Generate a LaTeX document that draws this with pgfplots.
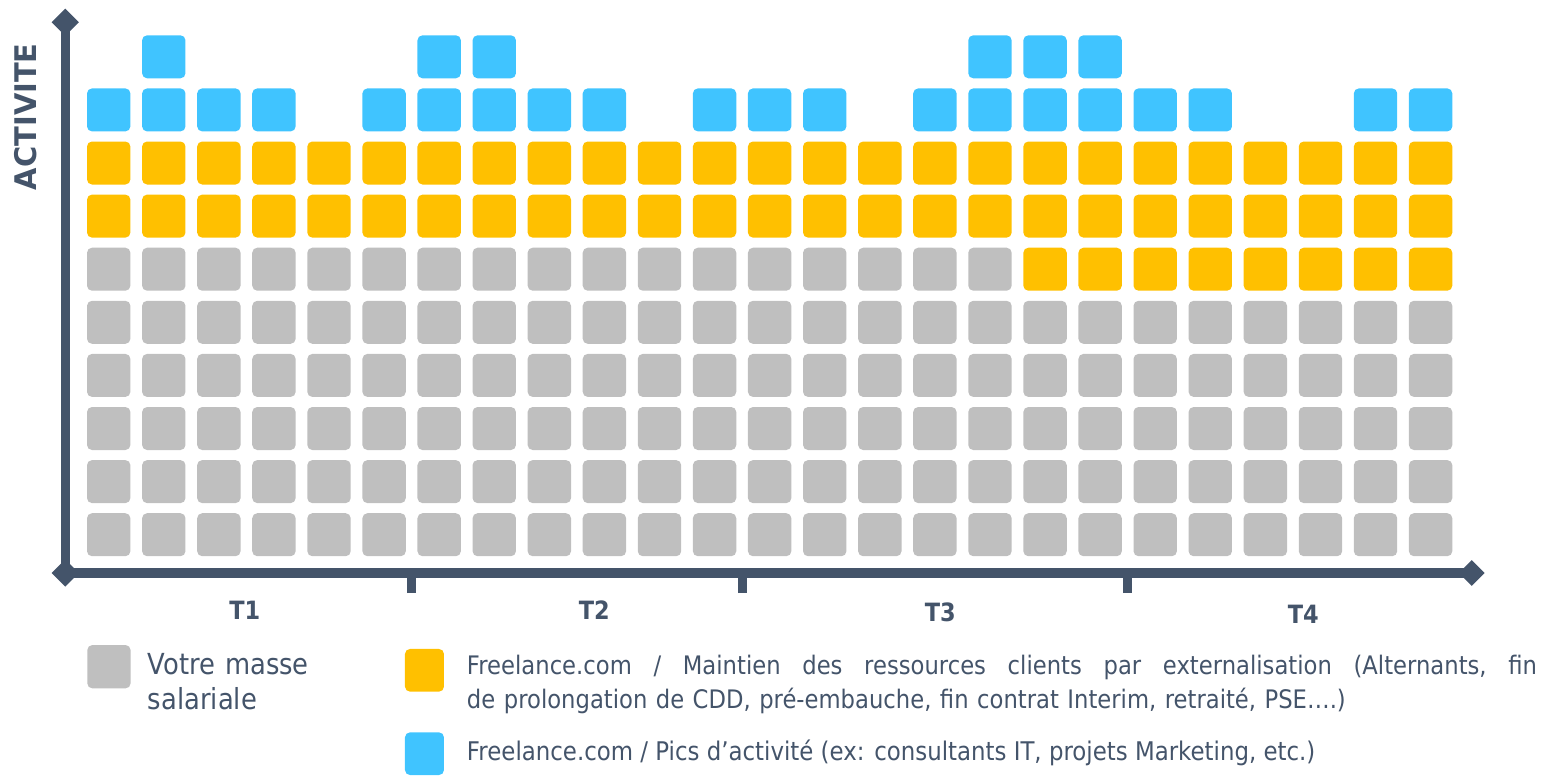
\documentclass[border=0pt]{standalone}
\usepackage{pgfplots}
\pgfplotsset{compat=1.18}
\usepackage{fontspec}
\setmainfont{DejaVu Sans}[FakeStretch=0.89]
\newfontfamily\labfont{DejaVu Sans}[FakeStretch=0.97]
\usetikzlibrary{shapes.geometric}
\definecolor{grayc}{HTML}{BFBFBF}
\definecolor{yellowc}{HTML}{FFC000}
\definecolor{bluec}{HTML}{40C4FF}
\definecolor{axiscol}{HTML}{44546A}
\pgfdeclareplotmark{rsq}{%
  \pgfsetcornersarced{\pgfpoint{2.5pt}{2.5pt}}%
  \pgfpathmoveto{\pgfpoint{-10.85pt}{0pt}}%
  \pgfpathlineto{\pgfpoint{-10.85pt}{10.75pt}}%
  \pgfpathlineto{\pgfpoint{10.85pt}{10.75pt}}%
  \pgfpathlineto{\pgfpoint{10.85pt}{-10.75pt}}%
  \pgfpathlineto{\pgfpoint{-10.85pt}{-10.75pt}}%
  \pgfpathclose
  \pgfusepath{fill}}
\begin{document}
\begin{tikzpicture}
\useasboundingbox (0pt,0pt) rectangle (772pt,388.5pt);
\begin{axis}[
  scale only axis, width=703.2pt, height=275.35pt,
  at={(32.65pt,102pt)}, anchor=south west,
  xmin=0.212, xmax=25.746, ymin=-0.721, ymax=9.65,
  axis x line=bottom, axis y line=left,
  axis line style={-, line width=4.65pt, draw=axiscol},
  xtick={6.5,12.5,19.5}, xticklabel=\empty, ytick=\empty,
  tick align=outside, major tick length=10pt,
  tick style={line width=4.5pt, draw=axiscol},
  clip=false,
  ylabel={ACTIVITE},
  ylabel style={at={(axis description cs:-0.02809,0.8286)}, anchor=center,
    font=\labfont\bfseries\fontsize{14.9pt}{17pt}\selectfont, text=axiscol},
  legend columns=2,
  legend style={at={(0.01564,-0.11168)}, anchor=north west, draw=none, fill=none,
    inner sep=0pt, outer sep=0pt, column sep=0pt, row sep=-2.25pt,
    cells={anchor=base west},
    nodes={inner sep=0pt, outer sep=0pt, text depth=, text=axiscol}},
]
% gray: votre masse salariale
\addplot[only marks, mark=rsq, color=grayc,
  legend image code/.code={\path[draw=none, fill=none] (0pt,-25pt) rectangle (30.35pt,20pt);
    \fill[grayc, draw=none, rounded corners=2.5pt] (0pt,-6.925pt) rectangle (21.65pt,14.725pt);}]
coordinates {
(1,0)(2,0)(3,0)(4,0)(5,0)(6,0)(7,0)(8,0)(9,0)(10,0)(11,0)(12,0)(13,0)(14,0)(15,0)(16,0)(17,0)(18,0)(19,0)(20,0)(21,0)(22,0)(23,0)(24,0)(25,0)
(1,1)(2,1)(3,1)(4,1)(5,1)(6,1)(7,1)(8,1)(9,1)(10,1)(11,1)(12,1)(13,1)(14,1)(15,1)(16,1)(17,1)(18,1)(19,1)(20,1)(21,1)(22,1)(23,1)(24,1)(25,1)
(1,2)(2,2)(3,2)(4,2)(5,2)(6,2)(7,2)(8,2)(9,2)(10,2)(11,2)(12,2)(13,2)(14,2)(15,2)(16,2)(17,2)(18,2)(19,2)(20,2)(21,2)(22,2)(23,2)(24,2)(25,2)
(1,3)(2,3)(3,3)(4,3)(5,3)(6,3)(7,3)(8,3)(9,3)(10,3)(11,3)(12,3)(13,3)(14,3)(15,3)(16,3)(17,3)(18,3)(19,3)(20,3)(21,3)(22,3)(23,3)(24,3)(25,3)
(1,4)(2,4)(3,4)(4,4)(5,4)(6,4)(7,4)(8,4)(9,4)(10,4)(11,4)(12,4)(13,4)(14,4)(15,4)(16,4)(17,4)(18,4)(19,4)(20,4)(21,4)(22,4)(23,4)(24,4)(25,4)
(1,5)(2,5)(3,5)(4,5)(5,5)(6,5)(7,5)(8,5)(9,5)(10,5)(11,5)(12,5)(13,5)(14,5)(15,5)(16,5)(17,5)
};
\addlegendentry[font=\fontsize{14.5pt}{17.5pt}\selectfont, text width=128.5pt, align=left]{Votre masse\\salariale}
% yellow: maintien des ressources
\addplot[only marks, mark=rsq, color=yellowc,
  legend image code/.code={\path[draw=none, fill=none] (0pt,-25pt) rectangle (31pt,20pt);
    \fill[yellowc, draw=none, rounded corners=2.5pt] (0pt,-8.575pt) rectangle (19.5pt,12.775pt);}]
coordinates {
(18,5)(19,5)(20,5)(21,5)(22,5)(23,5)(24,5)(25,5)
(1,6)(2,6)(3,6)(4,6)(5,6)(6,6)(7,6)(8,6)(9,6)(10,6)(11,6)(12,6)(13,6)(14,6)(15,6)(16,6)(17,6)(18,6)(19,6)(20,6)(21,6)(22,6)(23,6)(24,6)(25,6)
(1,7)(2,7)(3,7)(4,7)(5,7)(6,7)(7,7)(8,7)(9,7)(10,7)(11,7)(12,7)(13,7)(14,7)(15,7)(16,7)(17,7)(18,7)(19,7)(20,7)(21,7)(22,7)(23,7)(24,7)(25,7)
};
\addlegendentry[font=\fontsize{12.75pt}{17.15pt}\selectfont, text width=600pt, align=left]{\hbox to 535pt{Freelance.com\hfill/\hfill Maintien\hfill des\hfill ressources\hfill clients\hfill par\hfill externalisation\hfill (Alternants,\hfill fin}\\de prolongation de CDD, pré-embauche, fin contrat Interim, retraité, PSE….)}
\addlegendimage{empty legend}
\addlegendentry{}
% blue: pics d'activite
\addplot[only marks, mark=rsq, color=bluec,
  legend image code/.code={\path[draw=none, fill=none] (0pt,-25pt) rectangle (31pt,20pt);
    \fill[bluec, draw=none, rounded corners=2.5pt] (0pt,-7.525pt) rectangle (19.5pt,13.825pt);}]
coordinates {
(1,8)(2,8)(3,8)(4,8)(6,8)(7,8)(8,8)(9,8)(10,8)(12,8)(13,8)(14,8)(16,8)(17,8)(18,8)(19,8)(20,8)(21,8)(24,8)(25,8)
(2,9)(7,9)(8,9)(17,9)(18,9)(19,9)
};
\addlegendentry[font=\fontsize{12.85pt}{17.15pt}\selectfont]{Freelance.com / Pics d’activité (ex: consultants IT, projets Marketing, etc.)}
% axis end diamonds
\node[diamond, fill=axiscol, inner sep=0pt, minimum size=13.8pt] at (rel axis cs:0,1) {};
\node[diamond, fill=axiscol, inner sep=0pt, minimum size=13.8pt] at (rel axis cs:0,0) {};
\node[diamond, fill=axiscol, inner sep=0pt, minimum size=13pt] at (rel axis cs:1,0) {};
% quarter labels
\node[anchor=base, font=\bfseries\fontsize{12.6pt}{15pt}\selectfont, text=axiscol] at (axis cs:3.471,-1.588) {T1};
\node[anchor=base, font=\bfseries\fontsize{12.6pt}{15pt}\selectfont, text=axiscol] at (axis cs:9.815,-1.606) {T2};
\node[anchor=base, font=\bfseries\fontsize{12.6pt}{15pt}\selectfont, text=axiscol] at (axis cs:16.098,-1.638) {T3};
\node[anchor=base, font=\bfseries\fontsize{12.6pt}{15pt}\selectfont, text=axiscol] at (axis cs:22.689,-1.669) {T4};
\end{axis}
\end{tikzpicture}
\end{document}
